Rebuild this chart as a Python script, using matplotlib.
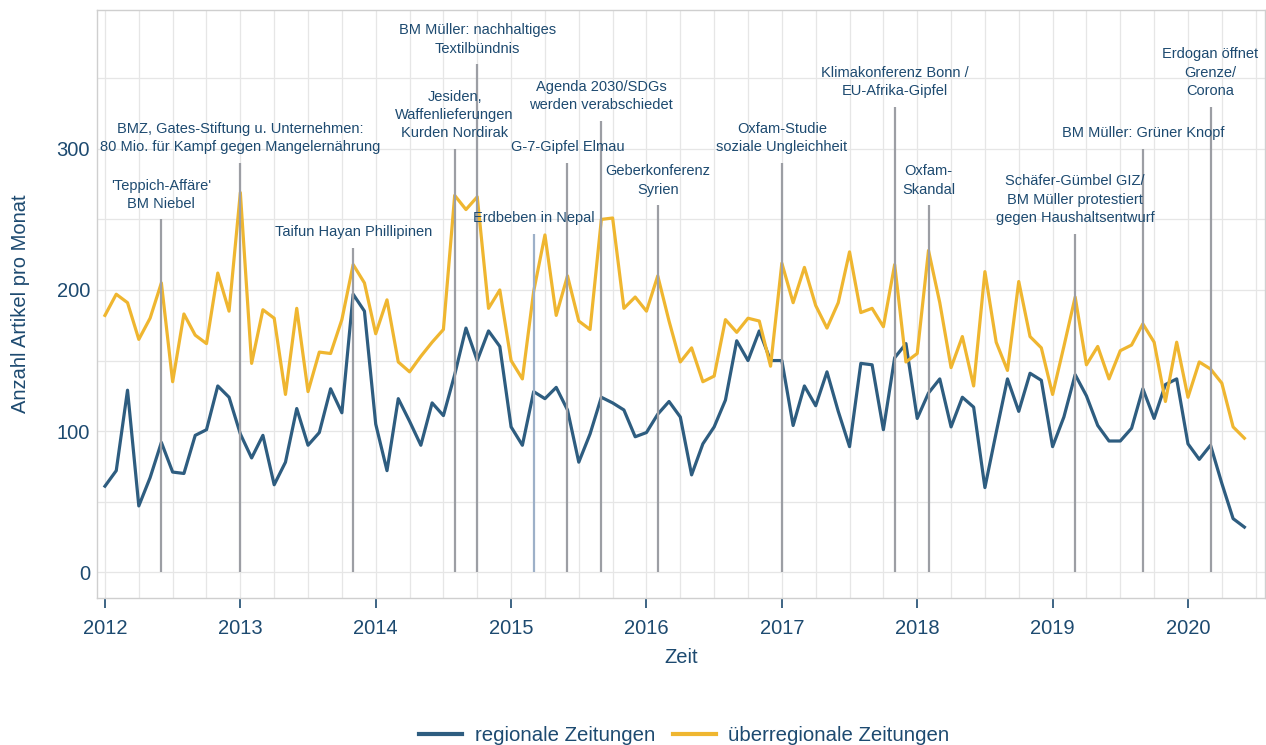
import numpy as np
import matplotlib
matplotlib.use("Agg")
import matplotlib.pyplot as plt
from matplotlib.ticker import MultipleLocator

plt.rcParams['font.family'] = ['Liberation Sans', 'DejaVu Sans']

# monthly article counts, Jan 2012 - Jun 2020
regional = [61, 72, 129, 47, 67, 92, 71, 70, 97, 101, 132, 124,
            98, 81, 97, 62, 78, 116, 90, 99, 130, 113, 197, 185,
            105, 72, 123, 107, 90, 120, 111, 140, 173, 150, 171, 160,
            103, 90, 128, 123, 131, 115, 78, 98, 124, 120, 115, 96,
            99, 112, 121, 110, 69, 91, 103, 122, 164, 150, 171, 150,
            150, 104, 132, 118, 142, 114, 89, 148, 147, 101, 152, 162,
            109, 127, 137, 103, 124, 117, 60, 99, 137, 114, 141, 136,
            89, 110, 140, 125, 104, 93, 93, 102, 130, 109, 133, 137,
            91, 80, 90, 63, 38, 32]
ueberregional = [182, 197, 191, 165, 180, 205, 135, 183, 168, 162, 212, 185,
                 269, 148, 186, 180, 126, 187, 128, 156, 155, 179, 218, 205,
                 169, 193, 149, 142, 153, 163, 172, 267, 257, 266, 187, 200,
                 150, 137, 199, 239, 182, 210, 178, 172, 250, 251, 187, 195,
                 185, 210, 178, 149, 159, 135, 139, 179, 170, 180, 178, 146,
                 219, 191, 216, 189, 173, 191, 227, 184, 187, 174, 218, 149,
                 155, 228, 191, 145, 167, 132, 213, 163, 143, 206, 167, 159,
                 126, 160, 195, 147, 160, 137, 157, 161, 176, 163, 121, 163,
                 124, 149, 144, 134, 103, 95]

# events: month index since Jan 2012, height of marker line, label
event_month = [5, 12, 22, 31, 33, 38, 41, 44, 49, 60, 70, 73, 86, 92, 98]
event_height = [250, 290, 230, 300, 360, 240, 290, 320, 260, 290, 330, 260, 240, 300, 330]
event_label = [
    "'Teppich-Affäre'\nBM Niebel",
    "BMZ, Gates-Stiftung u. Unternehmen:\n80 Mio. für Kampf gegen Mangelernährung",
    "Taifun Hayan Phillipinen",
    "Jesiden,\nWaffenlieferungen\nKurden Nordirak",
    "BM Müller: nachhaltiges\nTextilbündnis",
    "Erdbeben in Nepal",
    "G-7-Gipfel Elmau",
    "Agenda 2030/SDGs\nwerden verabschiedet",
    "Geberkonferenz\nSyrien",
    "Oxfam-Studie\nsoziale Ungleichheit",
    "Klimakonferenz Bonn /\nEU-Afrika-Gipfel",
    "Oxfam-\nSkandal",
    "Schäfer-Gümbel GIZ/\nBM Müller protestiert\ngegen Haushaltsentwurf",
    "BM Müller: Grüner Knopf",
    "Erdogan öffnet\nGrenze/\nCorona",
]

blue = "#2e5d80"
yellow = "#efb630"
textcol = "#1d4a70"
grey = "#9c9ea4"

t = 2012 + np.arange(len(regional)) / 12

fig = plt.figure(figsize=(12.66, 7.45), dpi=100)
ax = fig.add_axes([0.0766, 0.197, 0.9224, 0.790])

ax.plot(t, regional, color=blue, lw=2.3, label="regionale Zeitungen", zorder=3)
ax.plot(t, ueberregional, color=yellow, lw=2.3, label="überregionale Zeitungen", zorder=3)

for m, h, lab in zip(event_month, event_height, event_label):
    x = 2012 + m / 12
    col = "#9db0c8" if lab.startswith("Erdbeben") else grey
    ax.vlines(x, 0, h, color=col, lw=1.6, zorder=4)
    ax.text(x, h + 6, lab, ha="center", va="bottom", fontsize=10.5,
            color=textcol, linespacing=1.4, zorder=5)

ax.set_xlim(2011.941, 2020.567)
ax.set_ylim(-18.4, 398.6)
ax.xaxis.set_major_locator(MultipleLocator(1))
ax.xaxis.set_minor_locator(MultipleLocator(0.25))
ax.yaxis.set_major_locator(MultipleLocator(100))
ax.yaxis.set_minor_locator(MultipleLocator(50))
ax.grid(which="both", color="#e6e6e6", lw=0.9, zorder=0)
ax.set_axisbelow(True)

for s in ax.spines.values():
    s.set_color("#cfcfcf")
    s.set_linewidth(1.0)

ax.tick_params(axis="x", which="major", colors=textcol, labelsize=14.5, length=7, width=1.2, pad=8)
ax.tick_params(axis="y", which="major", colors=textcol, labelsize=14.5, length=0, pad=5)
ax.tick_params(which="minor", length=0)
ax.set_xticks(range(2012, 2021))
ax.set_xticklabels([str(y) for y in range(2012, 2021)])

ax.set_xlabel("Zeit", fontsize=14.5, color=textcol, labelpad=7)
ax.set_ylabel("Anzahl Artikel pro Monat", fontsize=14.5, color=textcol, labelpad=19)

leg = fig.legend(loc="center", bbox_to_anchor=(0.5407, 0.013), ncol=2, frameon=False,
                 fontsize=14.7, handlelength=2.1, columnspacing=0.9, handletextpad=0.6)
for txt in leg.get_texts():
    txt.set_color(textcol)
for ln in leg.get_lines():
    ln.set_linewidth(3)

fig.savefig("out.png", dpi=100)
